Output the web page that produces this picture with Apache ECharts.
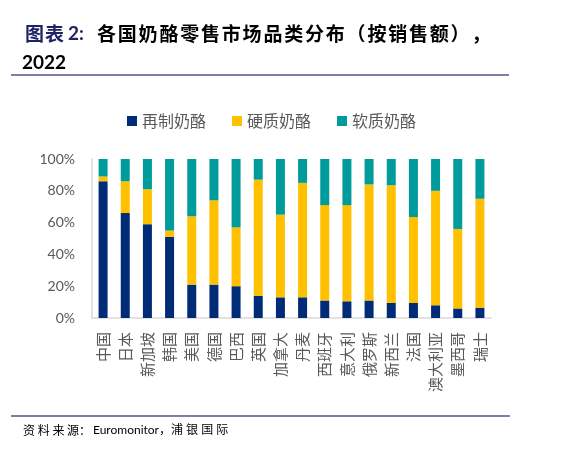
<!DOCTYPE html>
<html>
<head>
<meta charset="utf-8">
<script src="https://cdn.jsdelivr.net/npm/echarts@6/dist/echarts.min.js"></script>
<style>
  html, body { margin: 0; padding: 0; background: #fff; }
  #box1 { width: 585px; height: 450px; }
</style>
</head>
<body>
<div id="box1"></div>
<script>
var countries = ['中国', '日本', '新加坡', '韩国', '美国', '德国', '巴西', '英国', '加拿大',
  '丹麦', '西班牙', '意大利', '俄罗斯', '新西兰', '法国', '澳大利亚', '墨西哥', '瑞士'];
// share of retail sales, %
var processed = [86, 66, 59, 51, 21, 21, 20, 14, 13, 13, 11, 10.5, 11, 9.5, 9.5, 8, 6, 6.5];
var hard = [3, 20, 22, 4, 43, 53, 37, 73, 52, 72, 60, 60.5, 73, 74, 54, 72, 50, 68.5];
var soft = [11, 14, 19, 45, 36, 26, 43, 13, 35, 15, 29, 29, 16, 16.5, 36.5, 20, 44, 25];
var yTicks = [0, 20, 40, 60, 80, 100];

var font = 'Lato, "Noto Sans CJK SC", sans-serif';
var cjk = '"Noto Sans CJK SC", sans-serif';
var dom = document.getElementById("box1");
var myChart = echarts.init(dom);

// the title font is wide-spaced, so lay it out one character at a time
function spaced(str, x0, step, y, size, color) {
  return str.split('').map(function (ch, i) {
    return {
      type: 'text', left: x0 + i * step, top: y,
      style: { text: ch, fontSize: size, fontWeight: 'bold', fill: color, fontFamily: cjk }
    };
  });
}

var graphics = []
  .concat(spaced('图表', 25, 20, 24, 19, '#1f2366'))
  .concat(spaced('各国奶酪零售市场品类分布（按销售额），', 97, 20.8, 24, 19, '#000'))
  .concat([
    {
      type: 'text', left: 68, top: 24,
      style: { text: '2:', fontSize: 19, fontWeight: 'bold', fill: '#1f2366', fontFamily: font }
    },
    {
      type: 'text', left: 22, top: 53,
      style: { text: '2022', fontSize: 19, fontWeight: 'bold', fill: '#000', fontFamily: font }
    },
    {
      type: 'line', shape: { x1: 11, y1: 75, x2: 509, y2: 75 },
      style: { stroke: '#5b4e8e', lineWidth: 1.5 }
    },
    {
      type: 'line', shape: { x1: 11, y1: 416, x2: 510, y2: 416 },
      style: { stroke: '#5b4e8e', lineWidth: 1.5 }
    },
    {
      type: 'text', left: 23, top: 424,
      style: { text: '资 料 来 源：', fontSize: 12, fill: '#000', fontFamily: cjk }
    },
    {
      type: 'text', left: 93, top: 424,
      style: { text: 'Euromonitor，浦 银 国 际', fontSize: 12, fill: '#000', fontFamily: font }
    }
  ]);

option = {
  animation: false,
  textStyle: { fontFamily: font },
  graphic: graphics,
  legend: {
    top: 108,
    left: 122,
    itemWidth: 10,
    itemHeight: 10,
    itemGap: 26,
    icon: 'rect',
    textStyle: { fontSize: 16, color: '#595959', fontFamily: cjk },
    data: ['再制奶酪', '硬质奶酪', '软质奶酪']
  },
  grid: { left: 92, right: 94, top: 159, bottom: 132 },
  xAxis: {
    type: 'category',
    data: countries,
    axisLine: { lineStyle: { color: '#d9d9d9', width: 1.5 } },
    axisTick: { show: false },
    axisLabel: {
      rotate: 90, interval: 0, margin: 14,
      fontSize: 15, color: '#595959', fontFamily: cjk
    }
  },
  yAxis: {
    type: 'value',
    min: yTicks[0],
    max: yTicks[yTicks.length - 1],
    interval: 20,
    axisLine: { show: true, lineStyle: { color: '#d9d9d9', width: 1.5 } },
    axisTick: { show: false },
    splitLine: { show: false },
    axisLabel: { formatter: '{value}%', fontSize: 14, color: '#595959', margin: 17 }
  },
  series: [
    { name: '再制奶酪', type: 'bar', stack: 'all', barWidth: 9, data: processed, itemStyle: { color: '#002c77' } },
    { name: '硬质奶酪', type: 'bar', stack: 'all', barWidth: 9, data: hard, itemStyle: { color: '#ffc000' } },
    { name: '软质奶酪', type: 'bar', stack: 'all', barWidth: 9, data: soft, itemStyle: { color: '#009b9b' } }
  ]
};

if (option && typeof option === 'object') {
  myChart.setOption(option);
}
</script>
</body>
</html>
